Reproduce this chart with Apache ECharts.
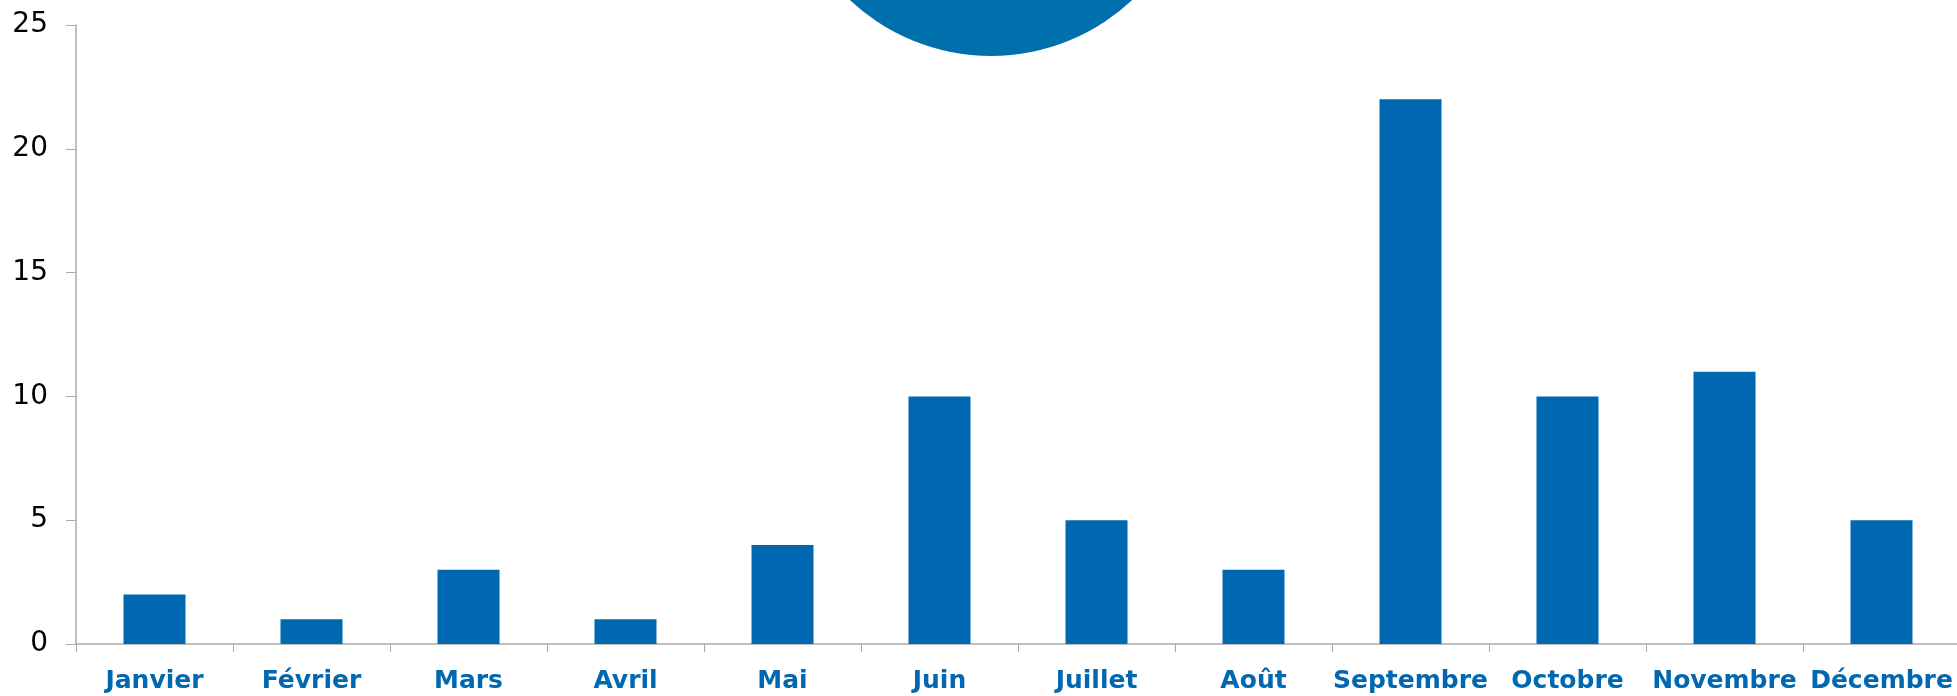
<!DOCTYPE html>
<html>
<head>
<meta charset="utf-8">
<script src="https://cdn.jsdelivr.net/npm/echarts@6/dist/echarts.min.js"></script>
<style>html,body{margin:0;padding:0;background:#fff}#c{width:1957px;height:696px}</style>
</head>
<body>
<div id="c"></div>
<script>
const categories = ['Janvier','Février','Mars','Avril','Mai','Juin','Juillet','Août','Septembre','Octobre','Novembre','Décembre'];
const values = [2,1,3,1,4,10,5,3,22,10,11,5];
const yTicks = [0,5,10,15,20,25];

const chart = echarts.init(document.getElementById('c'));
chart.setOption({
  animation: false,
  backgroundColor: '#ffffff',
  grid: { left: 76, right: -3, top: 25, bottom: 52, containLabel: false, outerBoundsMode: 'none' },
  graphic: [{
    type: 'circle', silent: true, z: 0,
    shape: { cx: 991, cy: -150, r: 206 },
    style: { fill: '#0070AD' }
  }],
  xAxis: {
    type: 'category', data: categories,
    axisLine: { show: true, lineStyle: { color: '#aaaaaa', width: 1.5 } },
    axisTick: { show: true, alignWithLabel: false, length: 8, lineStyle: { color: '#aaaaaa' } },
    axisLabel: { color: '#0068B0', fontFamily: 'DejaVu Sans', fontWeight: 'bold', fontSize: 25, margin: 25, interval: 0 }
  },
  yAxis: {
    type: 'value', min: yTicks[0], max: yTicks[yTicks.length-1], interval: 5,
    axisLine: { show: true, lineStyle: { color: '#aaaaaa', width: 1.5 } },
    axisTick: { show: true, length: 10, lineStyle: { color: '#aaaaaa' } },
    splitLine: { show: false },
    axisLabel: { color: '#000000', fontFamily: 'DejaVu Sans', fontSize: 28, margin: 28 }
  },
  series: [{
    type: 'bar', data: values, barWidth: 62,
    itemStyle: { color: '#0068B0' }
  }]
});
</script>
</body>
</html>
